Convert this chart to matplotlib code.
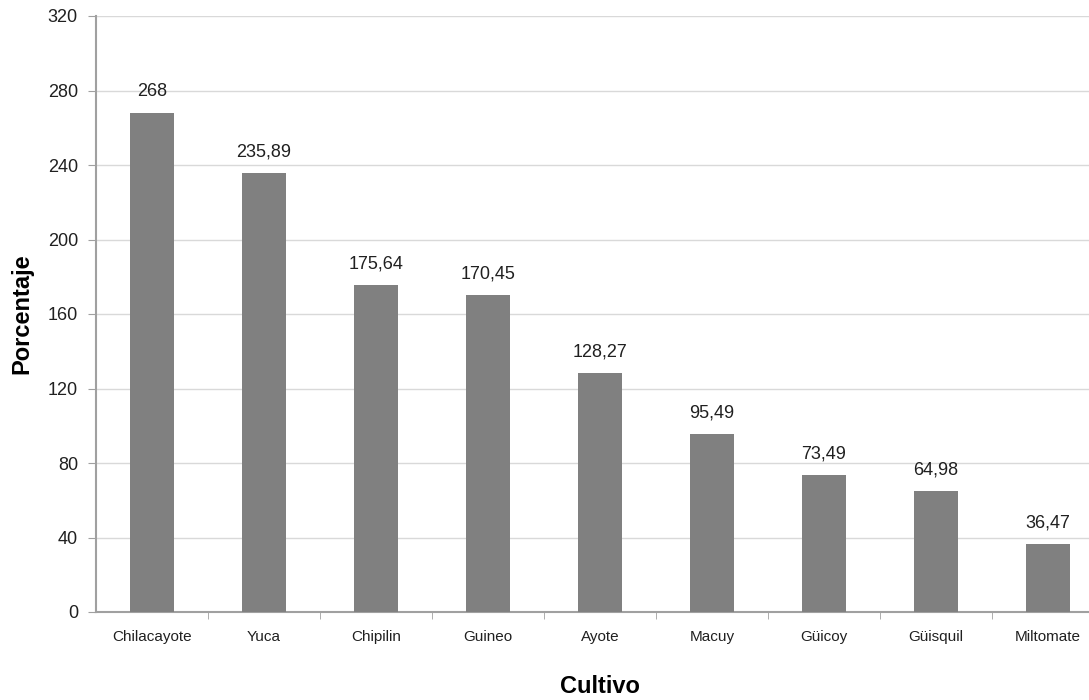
import matplotlib
matplotlib.use('Agg')
import matplotlib.pyplot as plt

# Datos del grafico
cultivos = ["Chilacayote", "Yuca", "Chipilin", "Guineo", "Ayote",
            "Macuy", "Güicoy", "Güisquil", "Miltomate"]
porcentajes = [268, 235.89, 175.64, 170.45, 128.27, 95.49, 73.49, 64.98, 36.47]
etiquetas = ["268", "235,89", "175,64", "170,45", "128,27",
             "95,49", "73,49", "64,98", "36,47"]
y_ticks = [0, 40, 80, 120, 160, 200, 240, 280, 320]

plt.rcParams['font.family'] = ['Liberation Sans', 'DejaVu Sans']

fig = plt.figure(figsize=(10.89, 7.0), dpi=100)
# the plot area runs a little past the right edge of the image
ax = fig.add_axes([96 / 1089, 88 / 700, 1008 / 1089, 596 / 700])

x = list(range(len(cultivos)))
ax.bar(x, porcentajes, width=0.4, color='#808080', zorder=3)

for xi, val, txt in zip(x, porcentajes, etiquetas):
    ax.annotate(txt, (xi, val), xytext=(0, 9), textcoords='offset points',
                ha='center', va='bottom', fontsize=13, color='#202020')

ax.set_xlim(-0.5, len(cultivos) - 0.5)
ax.set_ylim(0, 320)
ax.set_yticks(y_ticks)
ax.set_yticklabels([str(t) for t in y_ticks], fontsize=13, color='#202020')
ax.yaxis.grid(True, color='#d9d9d9', linewidth=1, zorder=0)

ax.set_xticks(x)
ax.set_xticklabels(cultivos, fontsize=11, color='#202020')
ax.tick_params(axis='x', length=0, pad=13)
ax.set_xticks([i + 0.5 for i in range(len(cultivos) - 1)], minor=True)
ax.tick_params(axis='x', which='minor', length=5, color='#a0a0a0', direction='out')
ax.tick_params(axis='y', length=6, color='#a0a0a0', pad=7)

for side in ['top', 'right']:
    ax.spines[side].set_visible(False)
for side in ['left', 'bottom']:
    ax.spines[side].set_color('#a0a0a0')
    ax.spines[side].set_linewidth(1.5)

ax.set_ylabel("Porcentaje", fontsize=17, fontweight='bold', labelpad=10)
ax.set_xlabel("Cultivo", fontsize=17, fontweight='bold', labelpad=22)

fig.savefig('out.png', dpi=100)
